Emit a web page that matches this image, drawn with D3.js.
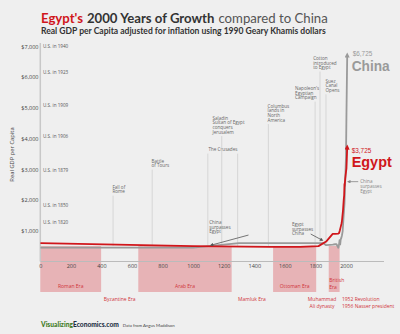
<!DOCTYPE html>
<html><head><meta charset="utf-8">
<script src="https://cdn.jsdelivr.net/npm/d3@7"></script>
<style>
html,body{margin:0;padding:0;background:#efefef;}
svg{display:block;font-family:"Open Sans",sans-serif;}
</style></head>
<body><svg id="c" width="400" height="334"></svg>
<script>
// ---------- DATA ----------
const xTicks = [0,200,400,600,800,1000,1200,1400,1600,1800,2000];
const yTicks = [1000,2000,3000,4000,5000,6000,7000];

const egyptYears = [1,1000,1500,1600,1700,1820,1870,1913,1929,1950,1955,1960,1965,1970,1973,1976,1980,1985,1988,1990,1991,1995,2000,2003,2005,2008];
const egyptGDP   = [600,500,475,475,475,500,649,902,900,910,930,1020,1120,1220,1294,1450,1645,2000,2150,2523,2450,2700,2920,3034,3300,3725];

const chinaYears = [1,1000,1300,1500,1600,1700,1820,1850,1870,1913,1929,1938,1950,1955,1958,1960,1962,1965,1970,1973,1978,1985,1990,1995,2000,2003,2005,2008];
const chinaGDP   = [450,450,600,600,600,600,600,600,530,552,562,562,448,575,693,662,553,706,778,838,978,1522,1871,2653,3421,4803,5575,6725];

const usLabels = [
  {text:"U.S. in 1940", value:7000},
  {text:"U.S. in 1923", value:6170},
  {text:"U.S. in 1909", value:5070},
  {text:"U.S. in 1906", value:4060},
  {text:"U.S. in 1879", value:2960},
  {text:"U.S. in 1850", value:1820},
  {text:"U.S. in 1820", value:1260}
];

// events: line years, label lines, label anchor (year, value of first line)
const events = [
  {years:[476],  lines:["Fall of","Rome"], labelYear:472, labelValue:2427},
  {years:[732],  lines:["Battle","of Tours"], labelYear:728, labelValue:3274},
  {years:[1096,1291], lines:["The Crusades"], labelYear:1100, labelValue:3642},
  {years:[1187], lines:["Saladin","Sultan of Egypt","conquers","Jerusalem"], labelYear:1127, labelValue:4674},
  {years:[1492], lines:["Columbus","lands in","North","America"], labelYear:1487, labelValue:5065},
  {years:[1798], lines:["Napoleon's","Egyptian","Campaign"], labelYear:1667, labelValue:5642},
  {years:[1830], lines:["Cotton","introduced","to Egypt"], labelYear:1785, labelValue:6619},
  {years:[1869], lines:["Suez","Canal","Opens"], labelYear:1866, labelValue:5879}
];

const eras = [
  {lines:["Roman Era"], start:0, end:398, band:true},
  {lines:["Byzantine Era"], start:398, end:641, band:false},
  {lines:["Arab Era"], start:641, end:1252, band:true},
  {lines:["Mamluk Era"], start:1252, end:1517, band:false},
  {lines:["Ottoman Era"], start:1523, end:1805, band:true},
  {lines:["Muhammad","Ali dynasty"], start:1805, end:1882, band:false},
  {lines:["British","Era"], start:1887, end:1958, band:true}
];
const modernNotes = ["1952 Revolution","1956 Nasser president"];

// ---------- SETUP ----------
const svg = d3.select("#c");
const W=400,H=334;
svg.append("rect").attr("width",W).attr("height",H).attr("fill","#efefef");

const x = d3.scaleLinear().domain([0,2000]).range([40.3,346]);
const y = d3.scaleLinear().domain([0,7000]).range([261.5,46.5]);

const RED="#d0161b", GRAY="#9a9a9a", TXT="#444";
const bandTop=246, bandBottom=292;

const defs = svg.append("defs");
function marker(id,color,w,h){
  defs.append("marker").attr("id",id).attr("viewBox","0 0 10 10").attr("refX",5).attr("refY",5)
    .attr("markerWidth",w).attr("markerHeight",h).attr("markerUnits","userSpaceOnUse").attr("orient","auto")
    .append("path").attr("d","M0,0 L10,5 L0,10 Z").attr("fill",color);
}
marker("arRed",RED,6,5);
marker("arGray",GRAY,6,5);
marker("arDark","#555",4,3.5);
marker("arMid","#888",4,3.5);

// a row of differently styled texts; font size chosen so the natural width fills `total`
function row(parts, x0, y0, total, family, gapEm){
  const nodes = parts.map(p=>svg.append("text").attr("y",y0).attr("font-size",10)
     .attr("font-family",family).attr("font-weight",p.weight).attr("fill",p.fill).text(p.text));
  const w10 = d3.sum(nodes, n=>n.node().getComputedTextLength()) + gapEm*10*(parts.length-1);
  const size = 10*total/w10;
  let cx = x0;
  nodes.forEach(n=>{
    n.attr("font-size",size).attr("x",cx);
    cx += n.node().getComputedTextLength() + gapEm*size;
  });
  return size;
}
function fitText(txt, x0, y0, total, family, weight, fill, dy){
  const t = svg.append("text").attr("x",x0).attr("y",y0).attr("font-size",10)
    .attr("font-family",family).attr("font-weight",weight).attr("fill",fill).text(txt);
  if(dy) t.attr("dy",dy);
  const w = t.node().getComputedTextLength();
  t.attr("font-size",10*total/w);
  return t;
}

// ---------- TITLE ----------
row([
  {text:"Egypt's", fill:RED, weight:700},
  {text:"2000 Years of Growth", fill:"#333", weight:700},
  {text:"compared to China", fill:"#555", weight:400}
], 41, 22.5, 287, "Lato", 0.3);

fitText("Real GDP per Capita adjusted for inflation using 1990 Geary Khamis dollars",
  41, 34, 285, "Lato", 700, "#333");

// ---------- ERA BANDS ----------
const bandEras = eras.filter(d=>d.band);
svg.append("g").selectAll("rect").data(bandEras).join("rect")
  .attr("x",d=>x(d.start)).attr("width",d=>x(d.end)-x(d.start))
  .attr("y",bandTop).attr("height",bandBottom-bandTop)
  .attr("fill","#e7b3b6");

// ---------- AXES ----------
svg.append("line").attr("x1",40.3).attr("x2",384).attr("y1",y(0)).attr("y2",y(0))
  .attr("stroke","#bbb").attr("stroke-width",1);
svg.append("line").attr("x1",40.3).attr("x2",40.3).attr("y1",43).attr("y2",y(0))
  .attr("stroke","#c8c8c8").attr("stroke-width",1.5);

const xAxis = svg.append("g").attr("transform",`translate(0,${y(0)})`)
  .call(d3.axisBottom(x).tickValues(xTicks).tickSize(0).tickPadding(3).tickFormat(d3.format("d")));
xAxis.select(".domain").remove();
xAxis.selectAll("text").attr("font-size",5.5).attr("fill",TXT).attr("font-family","Open Sans");

const yAxis = svg.append("g").attr("transform","translate(38.5,0)")
  .call(d3.axisLeft(y).tickValues(yTicks).tickSize(0).tickPadding(0).tickFormat(d=>"$"+d3.format(",")(d)));
yAxis.select(".domain").remove();
yAxis.selectAll("text").attr("font-size",5.5).attr("fill",TXT).attr("font-family","Open Sans");

svg.append("text").attr("transform",`translate(14,154.5) rotate(-90)`).attr("text-anchor","middle")
  .attr("font-size",5.8).attr("fill",TXT).text("Real GDP per Capita");

// US labels
svg.append("g").selectAll("text").data(usLabels).join("text")
  .attr("x",43).attr("y",d=>y(d.value)).attr("dy","0.35em")
  .attr("font-size",4.6).attr("fill","#555").text(d=>d.text);

// ---------- EVENTS ----------
const evG = svg.append("g");
const LH = 4.7;
events.forEach(ev=>{
  const labelTop = y(ev.labelValue);
  const lineTop = labelTop + (ev.lines.length-1)*LH + 4;
  ev.years.forEach(yr=>{
    evG.append("line").attr("x1",x(yr)).attr("x2",x(yr)).attr("y1",lineTop).attr("y2",bandTop)
      .attr("stroke","#cfcfcf").attr("stroke-width",0.8);
  });
  const tx = evG.append("text").attr("font-size",4.6).attr("fill","#666");
  ev.lines.forEach((l,i)=>{
    tx.append("tspan").attr("x",x(ev.labelYear)).attr("y",labelTop+i*LH).attr("dy","0.35em").text(l);
  });
});

// ---------- LINES ----------
const line = d3.line().x(d=>x(d[0])).y(d=>y(d[1]));
const chinaData = chinaYears.map((yr,i)=>[yr,chinaGDP[i]]);
const egyptData = egyptYears.map((yr,i)=>[yr,egyptGDP[i]]);

svg.append("path").datum(chinaData).attr("d",line).attr("fill","none")
  .attr("stroke",GRAY).attr("stroke-width",1.8).attr("stroke-linejoin","round")
  .attr("marker-end","url(#arGray)");
svg.append("path").datum(egyptData).attr("d",line).attr("fill","none")
  .attr("stroke",RED).attr("stroke-width",1.8).attr("stroke-linejoin","round")
  .attr("marker-end","url(#arRed)");

// ---------- ANNOTATIONS ----------
function note(lines, lx, ly, color){
  const tx = svg.append("text").attr("font-size",4.6).attr("fill",color);
  lines.forEach((l,i)=>tx.append("tspan").attr("x",lx).attr("y",ly+i*LH).attr("dy","0.35em").text(l));
}
// China surpasses Egypt (medieval)
note(["China","surpasses","Egypt"], x(1105), y(1276), "#666");
svg.append("line").attr("x1",x(1048)+48).attr("y1",y(861)).attr("x2",x(1120)).attr("y2",y(535))
  .attr("stroke","#555").attr("stroke-width",0.8).attr("marker-end","url(#arDark)");
// Egypt surpasses China
note(["Egypt","surpasses","China"], x(1646), y(1212), "#666");
svg.append("line").attr("x1",x(1769)).attr("y1",y(895)).attr("x2",x(1842)).attr("y2",y(700))
  .attr("stroke","#555").attr("stroke-width",0.8).attr("marker-end","url(#arDark)");
// China surpasses Egypt (modern)
note(["China","surpasses","Egypt"], x(2093), y(2600), "#888");
svg.append("line").attr("x1",x(2080)).attr("y1",y(2600)).attr("x2",x(2018)).attr("y2",y(2600))
  .attr("stroke","#888").attr("stroke-width",0.8).attr("marker-end","url(#arMid)");

// end labels
const lastC = chinaData[chinaData.length-1], lastE = egyptData[egyptData.length-1];
const BIG = "Liberation Sans";
svg.append("text").attr("x",x(lastC[0])+5.5).attr("y",y(lastC[1])-0.8).attr("dy","0.35em")
  .attr("font-family",BIG).attr("font-size",6.4).attr("fill",GRAY).text("$"+d3.format(",")(lastC[1]));
svg.append("text").attr("x",x(lastC[0])+4.5).attr("y",y(lastC[1])+16.2).attr("font-size",14.5)
  .attr("font-family",BIG).attr("font-weight",700).attr("fill",GRAY)
  .attr("textLength",38).attr("lengthAdjust","spacingAndGlyphs").text("China");
svg.append("text").attr("x",x(lastE[0])+4.5).attr("y",y(lastE[1])+3.2).attr("dy","0.35em")
  .attr("font-family",BIG).attr("font-size",6.4).attr("fill",RED).text("$"+d3.format(",")(lastE[1]));
svg.append("text").attr("x",x(lastE[0])+4.5).attr("y",y(lastE[1])+20.2).attr("font-size",14.5)
  .attr("font-family",BIG).attr("font-weight",700).attr("fill",RED)
  .attr("textLength",40).attr("lengthAdjust","spacingAndGlyphs").text("Egypt");

// ---------- ERA LABELS ----------
const eraG = svg.append("g").attr("font-size",5).attr("fill","#d0343a");
eras.forEach(e=>{
  const tx = eraG.append("text");
  let lx, ly, anchor;
  if(e.band && e.lines.length===1){ lx=(x(e.start)+x(e.end))/2; ly=286; anchor="middle"; }
  else if(e.band){ lx=x(e.start)+0.5; ly=280.7; anchor="start"; }
  else { lx=(x(e.start)+x(e.end))/2; ly=298.8; anchor="middle"; }
  tx.attr("text-anchor",anchor);
  e.lines.forEach((l,i)=>tx.append("tspan").attr("x",lx).attr("y",ly+i*7).attr("dy","0.35em").text(l));
});
const mn = eraG.append("text");
modernNotes.forEach((l,i)=>mn.append("tspan").attr("x",x(1970)+0.5).attr("y",298.8+i*7).attr("dy","0.35em").text(l));

// ---------- FOOTER ----------
row([
  {text:"Visualizing", fill:"#3d7a22", weight:900},
  {text:"Economics.com", fill:"#1e2f45", weight:900}
], 41, 327.2, 78, "Lato", 0.02);
fitText("Data from Angus Maddison", 122.8, 325.5, 52, "Lato", 400, "#444", "0.35em");
</script></body></html>
